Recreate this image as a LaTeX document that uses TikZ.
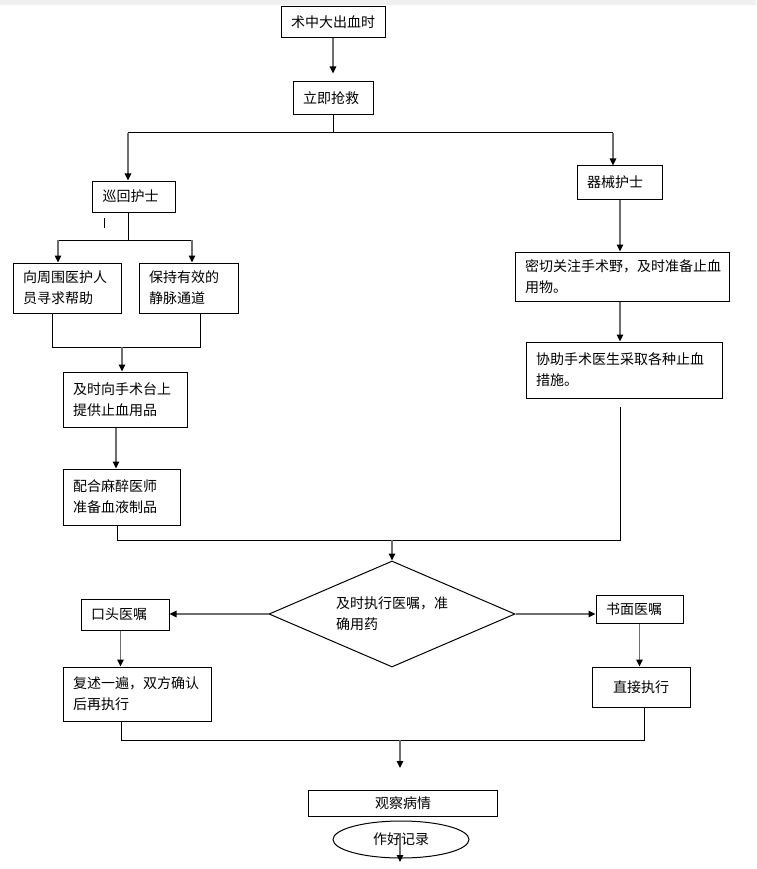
\documentclass[tikz,border=0pt]{standalone}
\usepackage{fontspec}
\newfontfamily\cjk{Noto Sans CJK SC}
\usetikzlibrary{arrows.meta,shapes.geometric}
\definecolor{ink}{HTML}{000000}
\definecolor{shaft}{HTML}{6E6E6E}
\definecolor{bar}{HTML}{F0F0F0}

\begin{document}
\begin{tikzpicture}[
    x=1pt, y=-1pt,
    font=\cjk\fontsize{14}{21}\selectfont,
    box/.style={draw=ink, line width=1pt, inner xsep=10pt, inner ysep=0pt, align=left},
    link/.style={draw=ink, line width=1pt},
    arr/.style={draw=shaft, line width=1.3pt, -{Triangle[width=6.5pt,length=7pt,color=ink]}}
]
\fill[white] (0,0) rectangle (756,869);
\useasboundingbox (0,0) rectangle (756,869);
\fill[bar] (0,0) rectangle (756,5);

% Onset and first response.
\node[box, text width=84pt, minimum height=31pt] (start) at (333,22.5) {术中大出血时};
\node[box, text width=60pt, minimum height=33pt] (rescue) at (333,98.5) {立即抢救};
\draw[arr, shorten >=8pt] (start) -- (rescue);

% Circulating nurse and scrub nurse.
\node[box, text width=63pt, minimum height=31pt] (circ) at (134,196.5) {巡回护士};
\node[box, text width=65pt, minimum height=33pt] (scrub) at (619.5,182.5) {器械护士};
\coordinate (splitL) at (128,133);
\coordinate (splitR) at (613,133);
\draw[link] (rescue.south) -- (rescue.south |- splitL);
\draw[link] (splitL) -- (splitR);
\draw[arr] (splitL) -- (splitL |- circ.north);
\draw[arr] (splitR) -- (splitR |- scrub.north);

% Circulating nurse tasks.
\node[box, text width=88pt, minimum height=50pt] (help) at (67,288) {向周围医护人\\员寻求帮助};
\node[box, text width=79pt, minimum height=50pt] (vein) at (188.5,288) {保持有效的\\静脉通道};
\coordinate (forkC) at (128,240);
\coordinate (forkL) at (58,240);
\coordinate (forkR) at (192,240);
\draw[link] (circ.south -| forkC) -- (forkC);
\draw[link] (forkL) -- (forkR);
\draw[arr] (forkL) -- (forkL |- help.north);
\draw[arr] (forkR) -- (forkR |- vein.north);
\coordinate (tickA) at (104.5,218);
\coordinate (tickB) at (104.5,228);
\draw[line width=0.8pt] (tickA) -- (tickB);

\node[box, text width=104pt, minimum height=55pt] (supply) at (125,399.5) {及时向手术台上\\提供止血用品};
\node[box, text width=97pt, minimum height=56pt] (blood) at (121.5,497) {配合麻醉医师\\准备血液制品};
\coordinate (joinL) at (52,347);
\coordinate (joinR) at (200,347);
\coordinate (joinM) at (122,347);
\draw[link] (help.south -| joinL) -- (joinL) -- (joinR) -- (vein.south -| joinR);
\draw[arr] (joinM) -- (joinM |- supply.north);
\draw[arr] ([xshift=-9pt]supply.south) -- ([xshift=-9pt]supply.south |- blood.north);

% Scrub nurse tasks.
\node[box, text width=194pt, minimum height=49pt] (watch) at (622,276.5) {密切关注手术野，及时准备止血\\用物。};
\node[box, text width=176pt, minimum height=56pt] (assist) at (624,370) {协助手术医生采取各种止血\\措施。};
\coordinate (colR) at (620,200);
\draw[arr] (scrub.south -| colR) -- (colR |- watch.north);
\draw[arr] (watch.south -| colR) -- (colR |- assist.north);

% Both branches meet at the order check.
\node[draw=ink, line width=1pt, diamond, aspect=2.32, minimum width=246pt, minimum height=106pt,
    inner sep=0pt, text width=112pt, align=left] (order) at (392,614) {及时执行医嘱，准\\确用药};
\coordinate (mergeL) at (117,540);
\coordinate (mergeR) at (620,540);
\coordinate (mergeM) at (392,540);
\coordinate (assistEnd) at (620,407);
\draw[link] (blood.south -| mergeL) -- (mergeL) -- (mergeR) -- (assistEnd);
\draw[arr] (mergeM) -- (order.north);

% Verbal and written orders.
\node[box, text width=68pt, minimum height=31pt] (oral) at (125,614.5) {口头医嘱};
\node[box, text width=67pt, minimum height=28pt] (written) at (639.5,609) {书面医嘱};
\draw[arr] (order.west) -- (order.west -| oral.east);
\draw[arr] (order.east) -- (order.east -| written.west);
\node[box, text width=128pt, minimum height=54pt] (repeat) at (137,694) {复述一遍，双方确认\\后再执行};
\node[box, align=center, text width=78pt, minimum height=40pt] (direct) at (641,687) {直接执行};
\draw[arr] ([xshift=-4.5pt]oral.south) -- ([xshift=-4.5pt]oral.south |- repeat.north);
\draw[arr] (written.south) -- (written.south |- direct.north);

% Observe and record.
\coordinate (endL) at (121.5,740);
\coordinate (endR) at (644,740);
\coordinate (endM) at (400,740);
\coordinate (endTip) at (400,768);
\draw[link] (repeat.south -| endL) -- (endL) -- (endR) -- (direct.south -| endR);
\draw[arr] (endM) -- (endTip);
\node[box, align=center, text width=169pt, minimum height=26pt] (observe) at (403,803) {观察病情};
\node[draw=ink, line width=1pt, ellipse, minimum width=136pt, minimum height=37pt, inner sep=0pt] (record) at (401,839.5) {作好记录};
\coordinate (tailA) at (400,833);
\coordinate (tailB) at (400,862);
\draw[arr] (tailA) -- (tailB);
\end{tikzpicture}
\end{document}
